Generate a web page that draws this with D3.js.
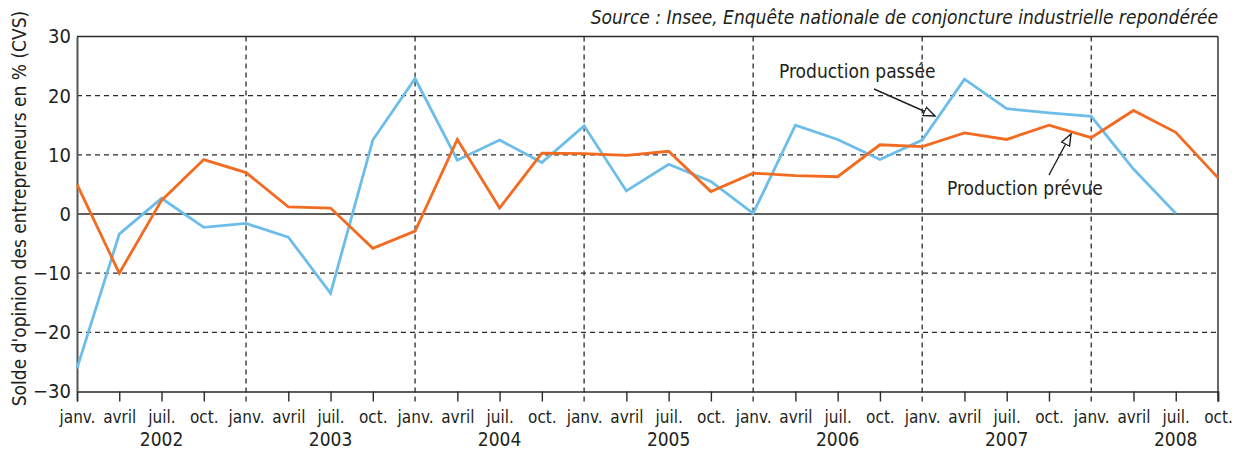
<!DOCTYPE html>
<html><head><meta charset="utf-8">
<script src="https://cdn.jsdelivr.net/npm/d3@7"></script>
<style>
body{margin:0;background:#fff;}
svg{display:block;}
text{font-family:"Liberation Sans Narrow","DejaVu Sans Condensed","Arial Narrow",sans-serif;fill:#231f20;}
</style></head>
<body>
<svg id="c" width="1236" height="450"></svg>
<script>
const quarters = ["janv.","avril","juil.","oct.","janv.","avril","juil.","oct.","janv.","avril","juil.","oct.","janv.","avril","juil.","oct.","janv.","avril","juil.","oct.","janv.","avril","juil.","oct.","janv.","avril","juil.","oct."];
const years = ["2002","2003","2004","2005","2006","2007","2008"];
const productionPrevue = [5.0,-10.0,2.3,9.2,7.0,1.2,1.0,-5.8,-2.9,12.6,1.0,10.3,10.2,9.9,10.6,3.8,6.9,6.5,6.3,11.7,11.4,13.7,12.6,15.0,12.9,17.5,13.8,6.1];
const productionPassee = [-26.1,-3.4,2.65,-2.25,-1.6,-3.9,-13.4,12.5,22.9,9.1,12.5,8.7,14.9,3.9,8.4,5.5,0.1,15.0,12.6,9.2,12.5,22.8,17.8,17.1,16.5,7.6,0.1,null];
const yTicks = [-30,-20,-10,0,10,20,30];
const yTitle = "Solde d'opinion des entrepreneurs en % (CVS)";
const sourceText = "Source : Insee, Enquête nationale de conjoncture industrielle repondérée";

const svg = d3.select("#c");
const L = 77, R = 1218, T = 36.5, B = 391.5;
const x = d3.scaleLinear().domain([0, quarters.length - 1]).range([L, R]);
const y = d3.scaleLinear().domain([-30, 30]).range([B, T]);
const dark = "#2a2a2a";

// horizontal dashed grid
svg.append("g").selectAll("line").data(yTicks.filter(v => v !== 0 && Math.abs(v) !== 30)).join("line")
  .attr("x1", L).attr("x2", R).attr("y1", d => y(d)).attr("y2", d => y(d))
  .attr("stroke", dark).attr("stroke-width", 1.3).attr("stroke-dasharray", "5,4");
// vertical dashed grid at janv.
const janIdx = d3.range(4, quarters.length, 4);
svg.append("g").selectAll("line").data(janIdx).join("line")
  .attr("x1", d => x(d)).attr("x2", d => x(d)).attr("y1", T).attr("y2", B + 10)
  .attr("stroke", dark).attr("stroke-width", 1.3).attr("stroke-dasharray", "5,4");

// zero line
svg.append("line").attr("x1", L).attr("x2", R).attr("y1", y(0)).attr("y2", y(0))
  .attr("stroke", dark).attr("stroke-width", 1.4);
// frame
svg.append("line").attr("x1", L).attr("x2", R).attr("y1", T).attr("y2", T).attr("stroke", dark).attr("stroke-width", 1.4);
svg.append("line").attr("x1", R).attr("x2", R).attr("y1", T).attr("y2", B + 10).attr("stroke", dark).attr("stroke-width", 1.4);

// x axis
const xAxis = d3.axisBottom(x).tickValues(d3.range(quarters.length)).tickSize(10).tickPadding(6)
  .tickFormat(i => quarters[i]);
const gx = svg.append("g").attr("transform", `translate(0,${B})`).call(xAxis);
gx.select(".domain").attr("stroke", dark).attr("stroke-width", 1.5);
gx.selectAll(".tick line").attr("stroke", dark).attr("stroke-width", 1.4);
gx.selectAll(".tick line").filter(i => i % 4 === 0 && i > 0 && i < quarters.length - 1).remove();
gx.selectAll(".tick text").attr("font-size", 17).attr("fill", "#231f20")
  .style("font-family", '"Liberation Sans Narrow","DejaVu Sans Condensed",sans-serif').attr("dy", "0.9em");

// years
svg.append("g").selectAll("text").data(years).join("text")
  .attr("x", (d, i) => x(i * 4 + 2)).attr("y", 446)
  .attr("text-anchor", "middle").attr("font-size", 19).text(d => d);

// y axis
const yAxis = d3.axisLeft(y).tickValues(yTicks).tickSize(0).tickPadding(6).tickFormat(d3.format("d"));
const gy = svg.append("g").attr("transform", `translate(${L},0)`).call(yAxis);
gy.select(".domain").attr("stroke", "#555").attr("stroke-width", 2);
gy.selectAll(".tick text").attr("font-size", 20).attr("fill", "#231f20")
  .style("font-family", '"Liberation Sans Narrow","DejaVu Sans Condensed",sans-serif');

// y title
svg.append("text").attr("transform", `translate(26,${(12 + 405) / 2}) rotate(-90)`)
  .attr("text-anchor", "middle").attr("font-size", 19).text(yTitle);

// source
svg.append("text").attr("x", 1218).attr("y", 24).attr("text-anchor", "end")
  .attr("font-size", 19).attr("font-style", "italic").text(sourceText);

// lines
const line = d3.line().defined(d => d != null).x((d, i) => x(i)).y(d => y(d));
svg.append("path").datum(productionPassee).attr("d", line)
  .attr("fill", "none").attr("stroke", "#6cbde9").attr("stroke-width", 2.8).attr("stroke-linejoin", "miter");
svg.append("path").datum(productionPrevue).attr("d", line)
  .attr("fill", "none").attr("stroke", "#f26b21").attr("stroke-width", 2.8).attr("stroke-linejoin", "miter");

// annotations
const defs = svg.append("defs");
defs.append("marker").attr("id", "arr").attr("viewBox", "0 0 13 11").attr("refX", 12).attr("refY", 5.5)
  .attr("markerWidth", 13).attr("markerHeight", 11).attr("markerUnits", "userSpaceOnUse").attr("orient", "auto")
  .append("path").attr("d", "M0.5,1 L12,5.5 L0.5,10 Z").attr("fill", "#fff").attr("stroke", "#231f20").attr("stroke-width", 1.4);

svg.append("text").attr("x", 779).attr("y", 78).attr("font-size", 19).text("Production passée");
svg.append("line").attr("x1", 874).attr("y1", 89).attr("x2", 935).attr("y2", 116)
  .attr("stroke", "#231f20").attr("stroke-width", 1.4).attr("marker-end", "url(#arr)");
svg.append("text").attr("x", 947).attr("y", 195).attr("font-size", 19).text("Production prévue");
svg.append("line").attr("x1", 1049).attr("y1", 175).attr("x2", 1071).attr("y2", 134)
  .attr("stroke", "#231f20").attr("stroke-width", 1.4).attr("marker-end", "url(#arr)");
</script>
</body></html>
